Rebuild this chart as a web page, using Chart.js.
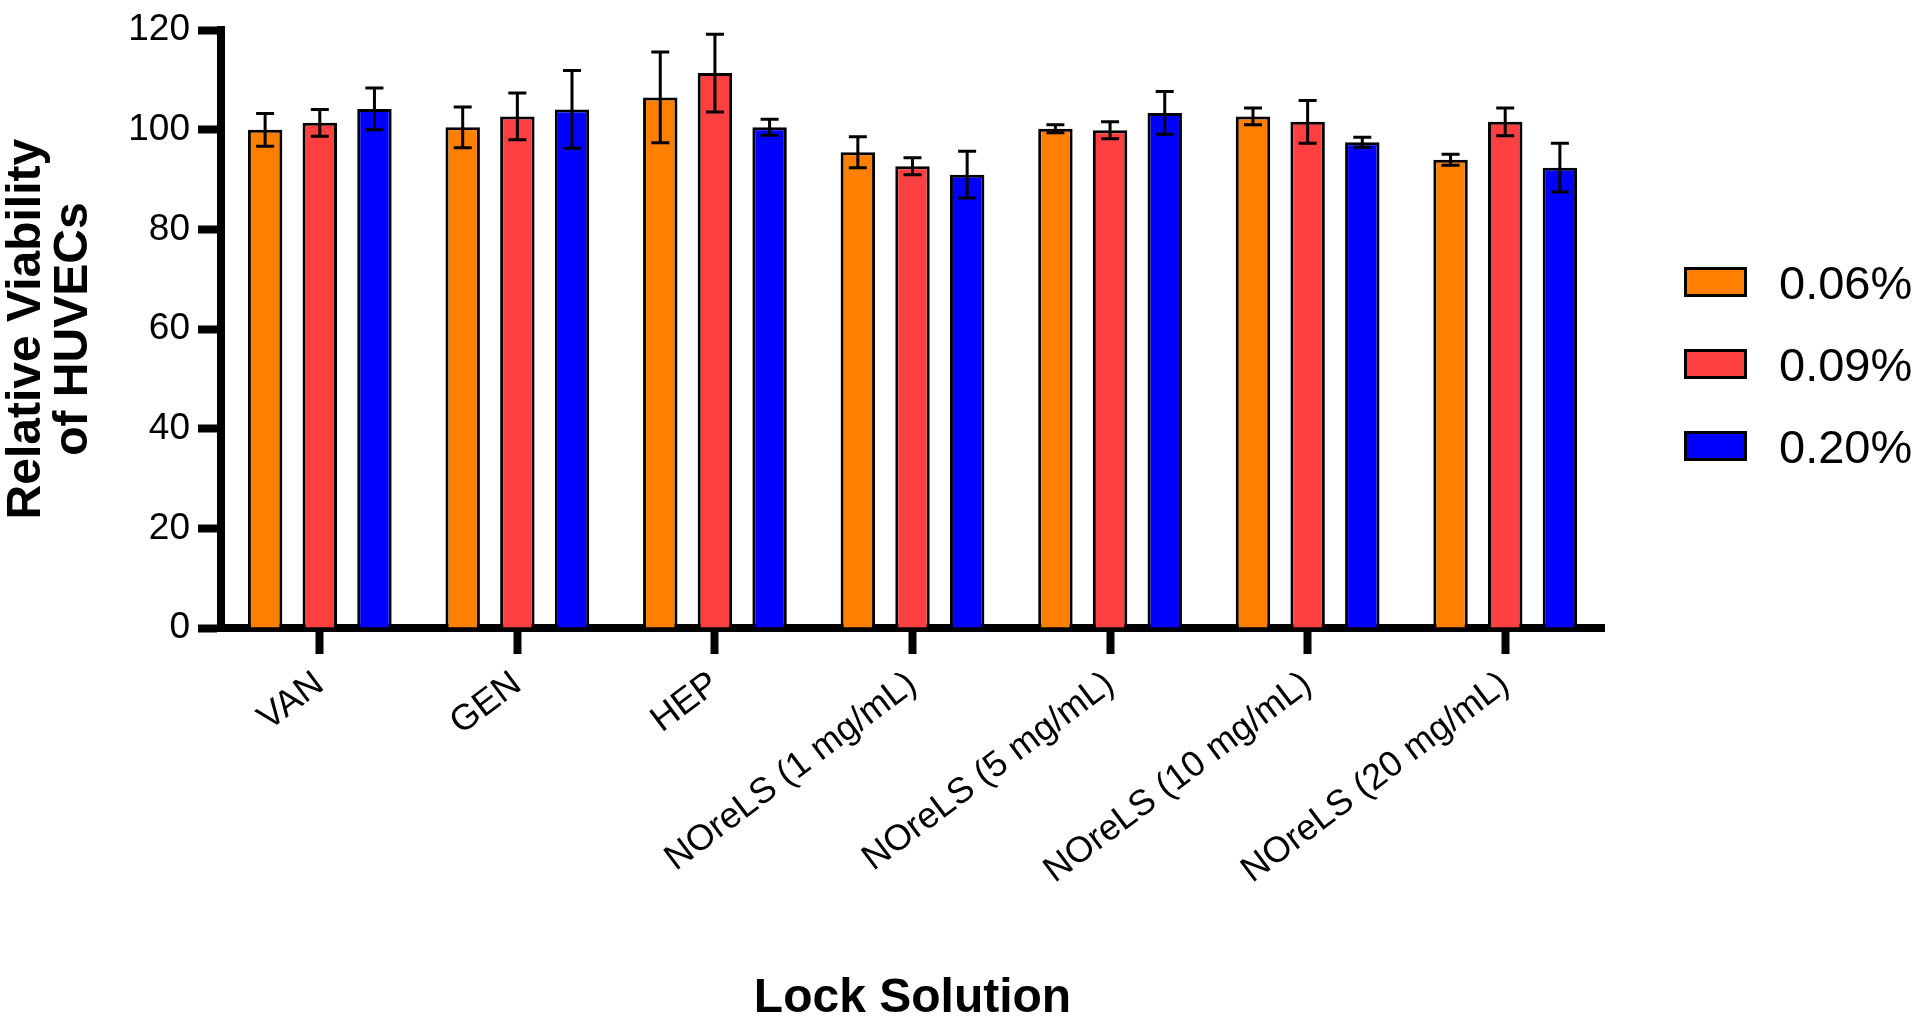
<!DOCTYPE html>
<html><head><meta charset="utf-8">
<script src="https://cdn.jsdelivr.net/npm/chart.js@4.4.1/dist/chart.umd.min.js"></script>
<style>
html,body{margin:0;padding:0;background:#fff;overflow:hidden;}
#wrap{position:relative;width:1920px;height:1023px;}
#legend{position:absolute;left:1684px;top:241px;font-family:'Liberation Sans',Arial,sans-serif;font-size:47px;color:#000;line-height:1;}
.item{display:flex;align-items:center;height:82px;}
.box{width:57px;height:24px;border:3px solid #000;margin-right:32px;}
</style></head><body>
<div id="wrap"><canvas id="c" width="1920" height="1023"></canvas><div id="legend"></div></div>
<script>
const categories = ['VAN', 'GEN', 'HEP', 'NOreLS (1 mg/mL)', 'NOreLS (5 mg/mL)', 'NOreLS (10 mg/mL)', 'NOreLS (20 mg/mL)'];
const seriesLabels = ['0.06%', '0.09%', '0.20%'];
const seriesColors = ['#FF8000', '#FF4040', '#0000FF'];
const values006 = [100.0, 100.5, 106.5, 95.5, 100.2, 102.7, 94.0];
const values009 = [101.4, 102.7, 111.4, 92.7, 99.9, 101.6, 101.6];
const values020 = [104.2, 104.1, 100.5, 91.0, 103.4, 97.5, 92.4];
const err006 = [3.3, 4.1, 9.1, 3.1, 0.8, 1.7, 1.1];
const err009 = [2.7, 4.7, 7.8, 1.7, 1.7, 4.3, 2.8];
const err020 = [4.2, 7.8, 1.6, 4.7, 4.3, 1.0, 4.9];
const yTicks = [0, 20, 40, 60, 80, 100, 120];
const yTitle = ['Relative Viability', 'of HUVECs'];
const xTitle = 'Lock Solution';

const seriesValues = [values006, values009, values020];
const seriesErrors = [err006, err009, err020];

Chart.defaults.font.family = "'Liberation Sans', Arial, sans-serif";
Chart.defaults.color = '#000';

const errorBars = {
  id: 'errorBars',
  afterDatasetsDraw(chart) {
    const ctx = chart.ctx;
    const y = chart.scales.y;
    ctx.save();
    ctx.strokeStyle = '#000';
    ctx.lineWidth = 3;
    chart.data.datasets.forEach((ds, di) => {
      const meta = chart.getDatasetMeta(di);
      meta.data.forEach((el, i) => {
        const v = seriesValues[di][i], e = seriesErrors[di][i];
        const yt = y.getPixelForValue(v + e), yb = y.getPixelForValue(v - e);
        const cw = 9;
        ctx.beginPath();
        ctx.moveTo(el.x, yt); ctx.lineTo(el.x, yb);
        ctx.moveTo(el.x - cw, yt); ctx.lineTo(el.x + cw, yt);
        ctx.moveTo(el.x - cw, yb); ctx.lineTo(el.x + cw, yb);
        ctx.stroke();
      });
    });
    ctx.restore();
  }
};

new Chart(document.getElementById('c'), {
  type: 'bar',
  data: {
    labels: categories,
    datasets: seriesLabels.map((lab, i) => ({
      label: lab,
      data: seriesValues[i],
      backgroundColor: seriesColors[i],
      borderColor: '#000',
      borderWidth: 3,
      categoryPercentage: 0.83,
      barPercentage: 0.63
    }))
  },
  options: {
    responsive: false,
    animation: false,
    devicePixelRatio: 1,
    layout: { padding: { left: 0, right: 316, top: 0, bottom: 0 } },
    plugins: { legend: { display: false }, tooltip: { enabled: false } },
    scales: {
      x: {
        z: 1,
        offset: true,
        afterFit(s) { s.height = 395; },
        border: { display: true, width: 8, color: '#000' },
        grid: { offset: false, drawOnChartArea: false, tickLength: 26, tickWidth: 8, tickColor: '#000' },
        ticks: { autoSkip: false, maxRotation: 37, minRotation: 37, padding: 9, font: { size: 36 }, color: '#000' },
        title: { display: true, text: xTitle, font: { size: 48, weight: 'bold', lineHeight: 1.0 }, padding: { top: 0, bottom: 0 }, color: '#000' }
      },
      y: {
        min: 0, max: 120,
        afterFit(s) { s.width = 221; },
        afterBuildTicks(s) { s.ticks = yTicks.map(v => ({ value: v })); },
        border: { display: true, width: 8, color: '#000' },
        grid: { drawOnChartArea: false, tickLength: 23, tickWidth: 8, tickColor: '#000' },
        ticks: { padding: 8, font: { size: 37 }, color: '#000' },
        title: { display: true, text: yTitle, font: { size: 48, weight: 'bold', lineHeight: 0.98 }, padding: { top: 3, bottom: 0 }, color: '#000' }
      }
    }
  },
  plugins: [errorBars]
});

const legend = document.getElementById('legend');
seriesLabels.forEach((lab, i) => {
  const item = document.createElement('div');
  item.className = 'item';
  const box = document.createElement('span');
  box.className = 'box';
  box.style.background = seriesColors[i];
  const t = document.createElement('span');
  t.textContent = lab;
  item.appendChild(box); item.appendChild(t);
  legend.appendChild(item);
});
</script>
</body></html>
